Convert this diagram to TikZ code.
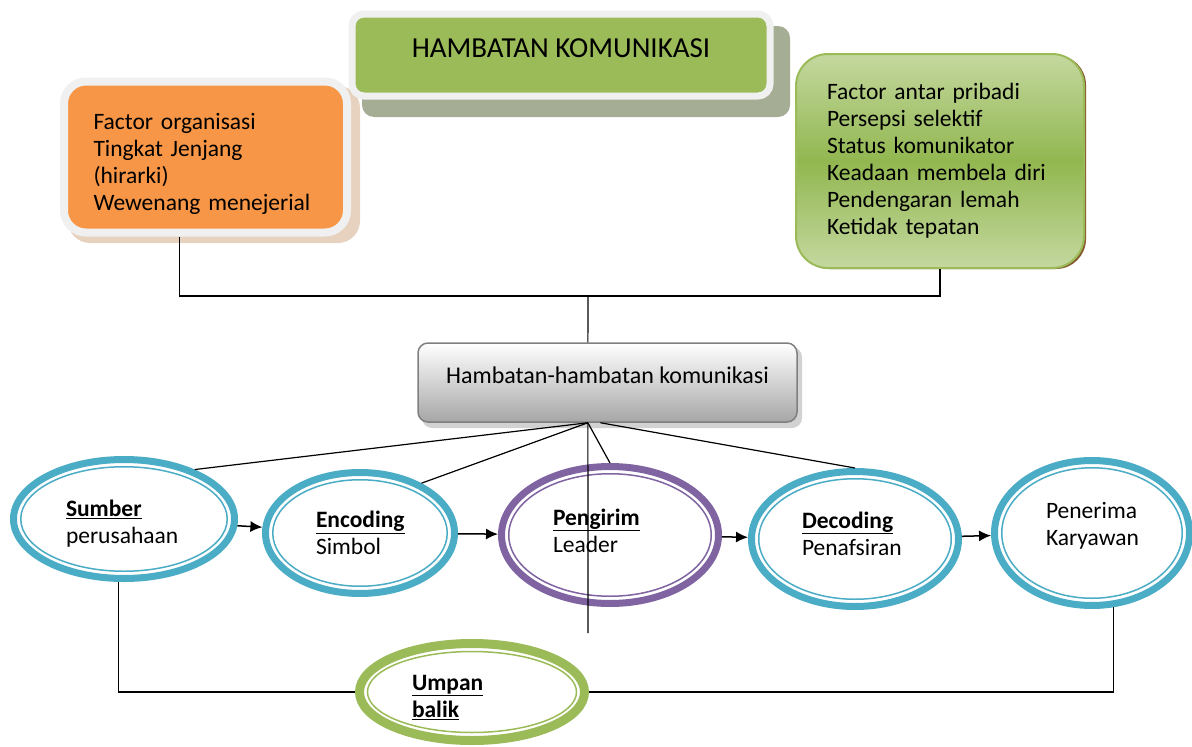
\documentclass[tikz,border=0pt]{standalone}
\usepackage{fontspec}
\setmainfont{Carlito}
\usetikzlibrary{shapes.geometric,arrows.meta}

\definecolor{hbteal}{HTML}{4BACC6}
\definecolor{hbungu}{HTML}{8064A2}
\definecolor{hbhijau}{HTML}{9BBB59}
\definecolor{hboranye}{HTML}{F79646}
\definecolor{hbputih}{HTML}{F0F0F0}
\definecolor{hbmuda}{HTML}{C4D89F}
\definecolor{hbtengah}{HTML}{92B750}
\definecolor{hbabu}{HTML}{A6A6A6}
\definecolor{hbgelap}{HTML}{7F7F7F}
\definecolor{bayanghijau}{HTML}{A5AE94}
\definecolor{bayangcoklat}{HTML}{E6D2BF}

\begin{document}
\begin{tikzpicture}[x=1pt,y=-1pt,
	every node/.style={font=\fontsize{23.5}{27}\selectfont},
	cincin/.style={ellipse, draw=#1, line width=7pt, fill=white, inner sep=0pt, align=left},
	garis/.style={line width=1.2pt},
	panah/.style={line width=1.5pt, -{Latex[length=12pt,width=11pt]}}]
	\useasboundingbox (0,0) rectangle (1192,747);
	
	%bayangan
	\fill[bayanghijau, rounded corners=12pt] (362,26) rectangle (790,117);
	\fill[bayangcoklat, rounded corners=22pt] (68,86) rectangle (360,243);
	\fill[brown!70!black, rounded corners=30pt] (799,55) rectangle (1086,269);
	\fill[gray!35, rounded corners=10pt] (422,347) rectangle (802,428);
	
	%kotak atas
	\node[fill=hbhijau, draw=hbputih, line width=7pt, rounded corners=12pt, minimum width=418pt, minimum height=82pt, text depth=14pt, font=\fontsize{29}{33}\selectfont] (judul) at (561,55) {HAMBATAN KOMUNIKASI};
	\node[fill=hboranye, draw=hbputih, line width=8pt, rounded corners=22pt, minimum width=283pt, minimum height=151pt, text width=224pt, text height=31pt, align=left] (organisasi) at (205.5,157) {Factor organisasi\\Tingkat Jenjang\\(hirarki)\\Wewenang menejerial};
	\node[top color=hbmuda, bottom color=hbmuda, middle color=hbtengah, draw=hbhijau, line width=2pt, rounded corners=32pt, minimum width=288pt, minimum height=214pt, text width=226pt, align=left] (pribadi) at (940,161) {Factor antar pribadi\\Persepsi selektif\\Status komunikator\\Keadaan membela diri\\Pendengaran lemah\\Ketidak tepatan};
	\node[top color=white, bottom color=hbabu, draw=hbgelap, line width=1.5pt, rounded corners=10pt, minimum width=379pt, minimum height=79pt, text depth=14pt, font=\fontsize{24}{28}\selectfont] (hambatan) at (607.5,382.5) {Hambatan-hambatan komunikasi};
	
	%proses
	\node[cincin=hbteal, minimum width=221pt, minimum height=119pt, text width=116pt, text height=26pt] (sumber) at (124,519) {\underline{\textbf{Sumber}}\\perusahaan};
	\node[cincin=hbteal, minimum width=189pt, minimum height=121pt, text width=88pt] (encoding) at (360,533) {\underline{\textbf{Encoding}}\\Simbol};
	\node[cincin=hbungu, minimum width=217pt, minimum height=137pt, text width=114pt, text depth=36pt] (pengirim) at (610,535) {\underline{\textbf{Pengirim}}\\Leader};
	\node[cincin=hbteal, minimum width=207pt, minimum height=135pt, text width=106pt, text depth=38pt] (decoding) at (855,539) {\underline{\textbf{Decoding}}\\Penafsiran};
	\node[cincin=hbteal, minimum width=195pt, minimum height=145pt, text width=92pt, text depth=45pt] (penerima) at (1092,533) {Penerima\\Karyawan};
	\node[cincin=hbhijau, line width=9pt, minimum width=225pt, minimum height=97pt, text width=120pt, text height=26pt] (umpan) at (472,692) {\underline{\textbf{Umpan}}\\\underline{\textbf{balik}}};
	
	%garis dalam
	\draw[hbteal, line width=1.5pt] (sumber.center) ellipse [x radius=103.25, y radius=52.25];
	\draw[hbteal, line width=1.5pt] (encoding.center) ellipse [x radius=87.25, y radius=53.25];
	\draw[hbungu, line width=1.5pt] (pengirim.center) ellipse [x radius=101.25, y radius=61.25];
	\draw[hbteal, line width=1.5pt] (decoding.center) ellipse [x radius=96.25, y radius=60.25];
	\draw[hbteal, line width=1.5pt] (penerima.center) ellipse [x radius=90.25, y radius=65.25];
	\draw[hbhijau, line width=1.5pt] (umpan.center) ellipse [x radius=104.5, y radius=40.5];
	
	%penghubung
	\coordinate (simpul) at (588,296);
	\coordinate (pusat) at (hambatan.-116);
	\coordinate (ujung) at (588,633);
	\draw[garis] (organisasi.-108) |- (simpul) -| (pribadi.south);
	\draw[garis] (simpul) -- (hambatan.116);
	\draw[garis] (pusat) -- (sumber.35);
	\draw[garis] (pusat) -- (encoding.39);
	\draw[garis] (pusat) -- (pengirim.north);
	\draw[garis] (hambatan.-100) -- (decoding.north);
	\draw[garis] (pusat) -- (ujung);
	
	\draw[panah] (sumber) -- (encoding);
	\draw[panah] (encoding) -- (pengirim);
	\draw[panah] (pengirim) -- (decoding);
	\draw[panah] (decoding) -- (penerima);
	
	%umpan balik
	\draw[garis] (sumber.-95) |- (umpan.west);
	\draw[garis] (umpan.east) -| (penerima.-74);
\end{tikzpicture}
\end{document}
